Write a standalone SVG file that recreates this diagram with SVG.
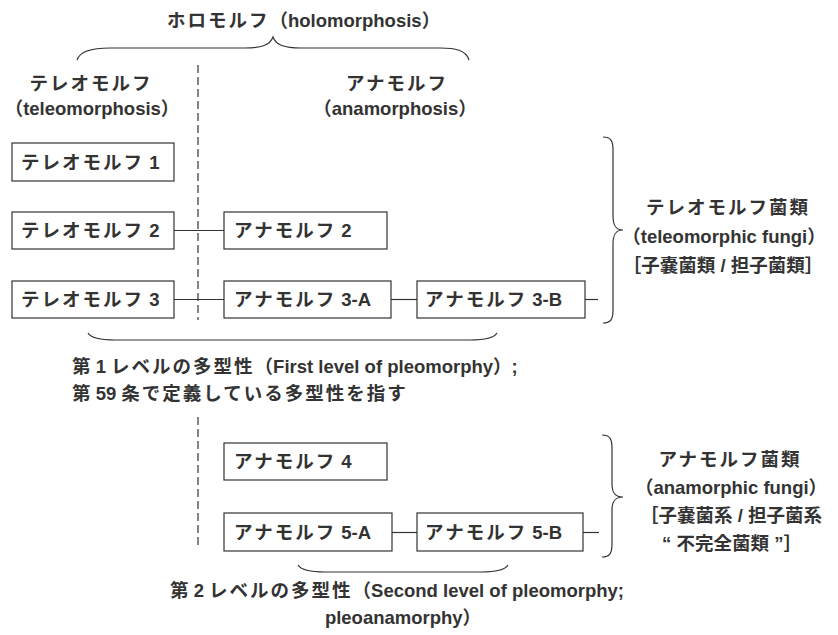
<svg xmlns="http://www.w3.org/2000/svg" width="838" height="635" viewBox="0 0 838 635">
<style>
text{font-family:"Liberation Sans","Noto Sans CJK JP",sans-serif;font-size:18.5px;font-weight:bold;fill:#333}
.j{letter-spacing:2px}
.m{text-anchor:middle}
.box{fill:#fff;stroke:#333;stroke-width:1.2}
.ln{fill:none;stroke:#333;stroke-width:1.2}
.dash{fill:none;stroke:#333;stroke-width:1.2;stroke-dasharray:8 4}
</style>
<rect width="838" height="635" fill="#fff"/>
<g id="headers">
<text x="167" y="27"><tspan class="j">ホロモルフ</tspan>（holomorphosis）</text>
<path class="ln" d="M77,60 C80,50 95,48 110,48 L245,48 C262,48 270,45 273,37 C276,45 284,48 301,48 L440,48 C455,48 466,50 469,60"/>
<text class="m j" x="91" y="90">テレオモルフ</text>
<text class="m" x="92" y="115">（teleomorphosis）</text>
<text class="m j" x="397" y="90">アナモルフ</text>
<text class="m" x="395" y="115">（anamorphosis）</text>
</g>
<g id="divider">
<line class="dash" x1="198" y1="65" x2="198" y2="320"/>
<line class="dash" x1="198" y1="417" x2="198" y2="547"/>
</g>
<g id="connectors">
<line class="ln" x1="174" y1="230.5" x2="224" y2="230.5"/>
<line class="ln" x1="174" y1="299.5" x2="224" y2="299.5" stroke-width="1.6"/>
<line class="ln" x1="391" y1="299.5" x2="417" y2="299.5"/>
<line class="ln" x1="585" y1="299.5" x2="598" y2="299.5"/>
<line class="ln" x1="392" y1="532.5" x2="417" y2="532.5"/>
<line class="ln" x1="583" y1="532.5" x2="599" y2="532.5"/>
</g>
<g id="t1"><rect class="box" x="12" y="143" width="162" height="38"/><text x="21" y="169"><tspan class="j">テレオモルフ</tspan> 1</text></g>
<g id="t2"><rect class="box" x="12" y="212" width="162" height="37"/><text x="21" y="237"><tspan class="j">テレオモルフ</tspan> 2</text></g>
<g id="t3"><rect class="box" x="12" y="281" width="162" height="37"/><text x="21" y="306"><tspan class="j">テレオモルフ</tspan> 3</text></g>
<g id="a2"><rect class="box" x="224" y="212" width="163" height="37"/><text x="234" y="237"><tspan class="j">アナモルフ</tspan> 2</text></g>
<g id="a3a"><rect class="box" x="224" y="281" width="167" height="37"/><text x="234" y="306"><tspan class="j">アナモルフ</tspan> 3-A</text></g>
<g id="a3b"><rect class="box" x="417" y="281" width="168" height="37"/><text x="425" y="306"><tspan class="j">アナモルフ</tspan> 3-B</text></g>
<g id="a4"><rect class="box" x="224" y="443" width="163" height="37"/><text x="234" y="468"><tspan class="j">アナモルフ</tspan> 4</text></g>
<g id="a5a"><rect class="box" x="224" y="513" width="168" height="38"/><text x="234" y="539"><tspan class="j">アナモルフ</tspan> 5-A</text></g>
<g id="a5b"><rect class="box" x="417" y="513" width="166" height="38"/><text x="425" y="539"><tspan class="j">アナモルフ</tspan> 5-B</text></g>
<g id="teleo-fungi">
<path class="ln" d="M603,137 C611,137 613,141 613,150 L613,216 C613,226 616,230 623,230 C616,230 613,234 613,244 L613,310 C613,319 611,323 603,323"/>
<text class="m j" x="728" y="214">テレオモルフ菌類</text>
<text class="m" x="724" y="243">（teleomorphic fungi）</text>
<text class="m" x="723" y="272">［子嚢菌類 / 担子菌類］</text>
</g>
<g id="ana-fungi">
<path class="ln" d="M602,435 C610,435 612,439 612,448 L612,484 C612,493 615,497 623,497 C615,497 612,501 612,510 L612,544 C612,553 610,557 602,557"/>
<text class="m j" x="730" y="466">アナモルフ菌類</text>
<text class="m" x="731" y="494">（anamorphic fungi）</text>
<text class="m" x="731" y="522">［子嚢菌系 / 担子菌系</text>
<text class="m" x="732" y="550">“ 不完全菌類 ”］</text>
</g>
<g id="level1">
<path class="ln" d="M88,333 C91,338 100,340 115,340 L470,340 C485,340 494,338 497,333"/>
<text x="72" y="373">第 1 <tspan class="j">レベルの多型性</tspan>（First level of pleomorphy）;</text>
<text x="72" y="400">第 59 <tspan class="j">条で定義している多型性を指す</tspan></text>
</g>
<g id="level2">
<path class="ln" d="M298,565 C301,570 310,572 325,572 L481,572 C496,572 505,570 508,565"/>
<text x="170" y="597">第 2 <tspan class="j">レベルの多型性</tspan>（Second level of pleomorphy;</text>
<text class="m" x="403" y="624">pleoanamorphy）</text>
</g>
</svg>
